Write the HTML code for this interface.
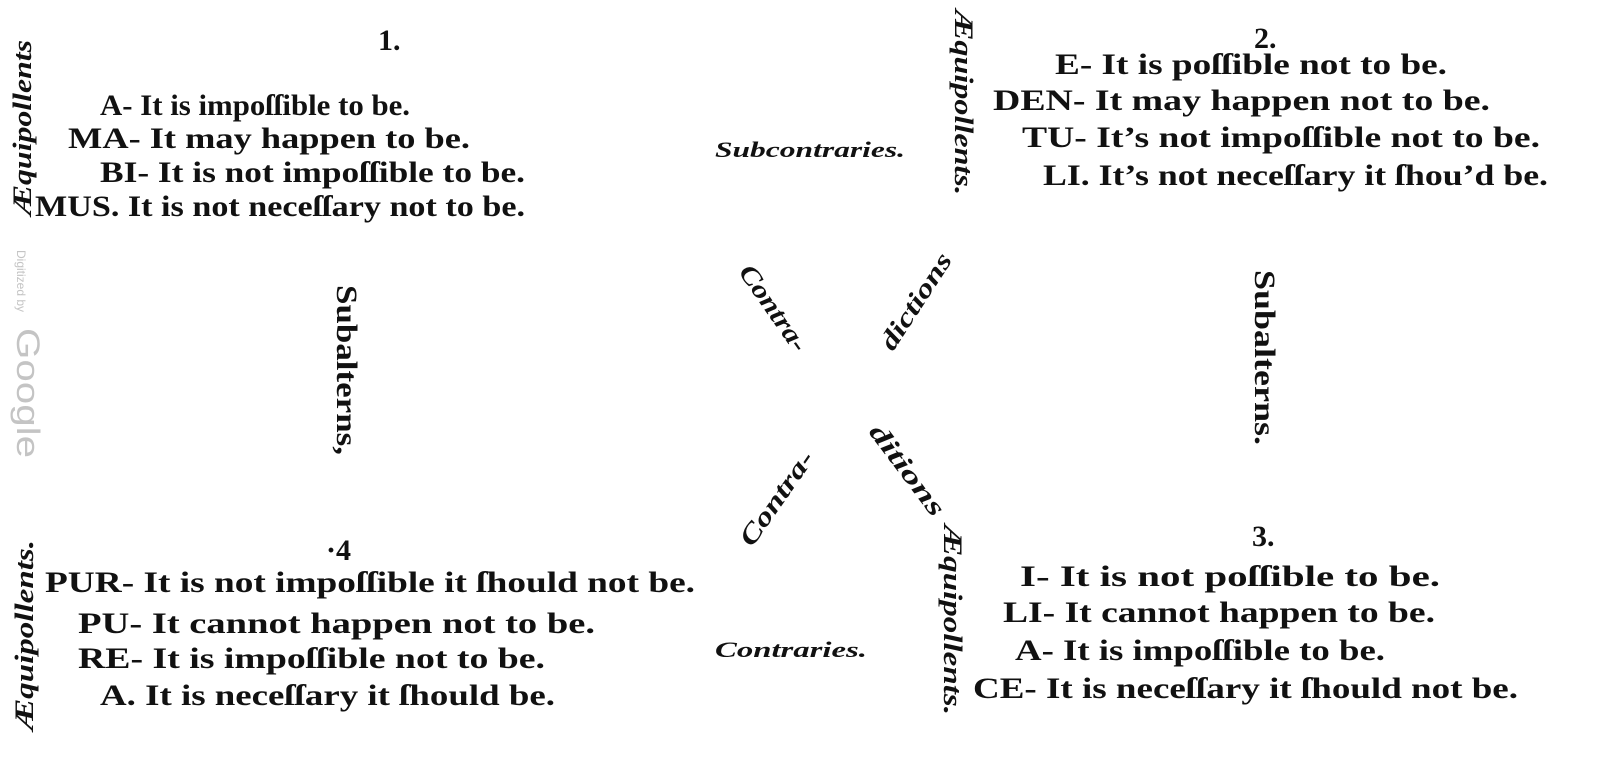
<!DOCTYPE html>
<html><head><meta charset="utf-8"><style>
html,body{margin:0;padding:0;background:#fff}
svg{display:block}
text{font-family:"Liberation Serif",serif;fill:#111}
.m{font-size:30px;font-weight:bold}
.i{font-style:italic;font-weight:bold}
</style></head><body>
<svg width="1600" height="759" viewBox="0 0 1600 759" xmlns="http://www.w3.org/2000/svg">
<g class="m">
<text class="m" x="378" y="50" font-size="22">1.</text>
<text class="m" x="100" y="115" textLength="310" lengthAdjust="spacingAndGlyphs">A- It is impoſſible to be.</text>
<text class="m" x="68" y="148" textLength="402" lengthAdjust="spacingAndGlyphs">MA- It may happen to be.</text>
<text class="m" x="100" y="182" textLength="425" lengthAdjust="spacingAndGlyphs">BI- It is not impoſſible to be.</text>
<text class="m" x="35" y="216" textLength="490" lengthAdjust="spacingAndGlyphs">MUS. It is not neceſſary not to be.</text>

<text class="m" x="1254" y="48" font-size="22">2.</text>
<text class="m" x="1055" y="74" textLength="392" lengthAdjust="spacingAndGlyphs">E- It is poſſible not to be.</text>
<text class="m" x="993" y="110" textLength="497" lengthAdjust="spacingAndGlyphs">DEN- It may happen not to be.</text>
<text class="m" x="1022" y="147" textLength="518" lengthAdjust="spacingAndGlyphs">TU- It’s not impoſſible not to be.</text>
<text class="m" x="1043" y="185" textLength="505" lengthAdjust="spacingAndGlyphs">LI. It’s not neceſſary it ſhou’d be.</text>

<text class="m" x="326" y="560" font-size="22">·4</text>
<text class="m" x="45" y="592" textLength="650" lengthAdjust="spacingAndGlyphs">PUR- It is not impoſſible it ſhould not be.</text>
<text class="m" x="78" y="633" textLength="517" lengthAdjust="spacingAndGlyphs">PU- It cannot happen not to be.</text>
<text class="m" x="78" y="668" textLength="467" lengthAdjust="spacingAndGlyphs">RE- It is impoſſible not to be.</text>
<text class="m" x="100" y="705" textLength="455" lengthAdjust="spacingAndGlyphs">A. It is neceſſary it ſhould be.</text>

<text class="m" x="1252" y="546" font-size="22">3.</text>
<text class="m" x="1020" y="586" textLength="420" lengthAdjust="spacingAndGlyphs">I- It is not poſſible to be.</text>
<text class="m" x="1003" y="622" textLength="432" lengthAdjust="spacingAndGlyphs">LI- It cannot happen to be.</text>
<text class="m" x="1015" y="660" textLength="370" lengthAdjust="spacingAndGlyphs">A- It is impoſſible to be.</text>
<text class="m" x="973" y="698" textLength="545" lengthAdjust="spacingAndGlyphs">CE- It is neceſſary it ſhould not be.</text>
</g>

<text class="i" font-size="26" transform="translate(31,215) rotate(-90)" textLength="175" lengthAdjust="spacingAndGlyphs">Æquipollents</text>
<text class="i" font-size="26" transform="translate(955,10) rotate(90)" textLength="185" lengthAdjust="spacingAndGlyphs">Æquipollents.</text>
<text class="i" font-size="26" transform="translate(33,730) rotate(-90)" textLength="190" lengthAdjust="spacingAndGlyphs">Æquipollents.</text>
<text class="i" font-size="26" transform="translate(944,525) rotate(90)" textLength="190" lengthAdjust="spacingAndGlyphs">Æquipollents.</text>

<text class="m" transform="translate(337,285) rotate(90)" textLength="170" lengthAdjust="spacingAndGlyphs">Subalterns,</text>
<text class="m" transform="translate(1255,270) rotate(90)" textLength="175" lengthAdjust="spacingAndGlyphs">Subalterns.</text>

<g transform="translate(17,250) rotate(90)">
<text x="0" y="0" style="font-family:'Liberation Sans',sans-serif;fill:#c4c4c4" font-size="12">Digitized by</text>
<text x="78" y="0" style="font-family:'Liberation Sans',sans-serif;fill:#c4c4c4" font-size="32" textLength="130" lengthAdjust="spacingAndGlyphs">Google</text>
</g>

<text class="i" x="715" y="157" font-size="22" textLength="190" lengthAdjust="spacingAndGlyphs">Subcontraries.</text>
<text class="i" x="715" y="657" font-size="22" textLength="152" lengthAdjust="spacingAndGlyphs">Contraries.</text>

<text class="i" font-size="26" transform="translate(738,272) rotate(55)" textLength="100" lengthAdjust="spacingAndGlyphs">Contra-</text>
<text class="i" font-size="26" transform="translate(893,352) rotate(-57)" textLength="110" lengthAdjust="spacingAndGlyphs">dictions</text>
<text class="i" font-size="26" transform="translate(752,548) rotate(-55)" textLength="110" lengthAdjust="spacingAndGlyphs">Contra-</text>
<text class="i" font-size="26" transform="translate(868,432) rotate(53)" textLength="108" lengthAdjust="spacingAndGlyphs">ditions</text>
</svg>
</body></html>
